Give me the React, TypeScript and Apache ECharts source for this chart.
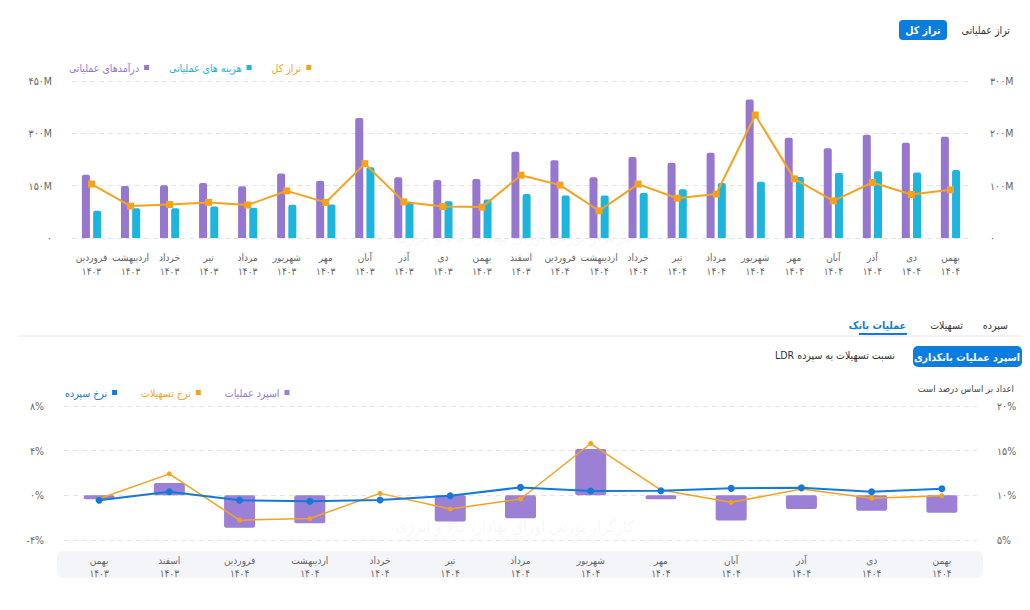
import React, { useEffect, useRef } from "react";
import * as echarts from "echarts";

const FONT = "'DejaVu Sans Condensed', 'DejaVu Sans', sans-serif";

// ---------- Top chart data ----------
const topMonths = [
  "فروردین", "اردیبهشت", "خرداد", "تیر", "مرداد", "شهریور", "مهر", "آبان", "آذر", "دی", "بهمن", "اسفند",
  "فروردین", "اردیبهشت", "خرداد", "تیر", "مرداد", "شهریور", "مهر", "آبان", "آذر", "دی", "بهمن",
];
const topYears = [
  "۱۴۰۳", "۱۴۰۳", "۱۴۰۳", "۱۴۰۳", "۱۴۰۳", "۱۴۰۳", "۱۴۰۳", "۱۴۰۳", "۱۴۰۳", "۱۴۰۳", "۱۴۰۳", "۱۴۰۳",
  "۱۴۰۴", "۱۴۰۴", "۱۴۰۴", "۱۴۰۴", "۱۴۰۴", "۱۴۰۴", "۱۴۰۴", "۱۴۰۴", "۱۴۰۴", "۱۴۰۴", "۱۴۰۴",
];
const revenue = [181, 149, 151, 158, 148, 185, 164, 344, 174, 166, 169, 247, 223, 174, 232, 216, 244, 397, 287, 257, 296, 273, 290];
const expenses = [78, 85, 85, 90, 87, 95, 96, 203, 104, 105, 110, 126, 122, 122, 129, 140, 158, 161, 175, 186, 191, 188, 195];
const totalBalance = [103, 61, 64, 68, 63, 90, 68, 142, 69, 60, 59, 120, 101, 52, 103, 76, 84, 235, 113, 71, 106, 83, 92];

const topLeftTicks = { min: 0, max: 450, interval: 150 };
const topRightTicks = { min: 0, max: 300, interval: 100 };

// ---------- Bottom chart data ----------
const botMonths = ["بهمن", "اسفند", "فروردین", "اردیبهشت", "خرداد", "تیر", "مرداد", "شهریور", "مهر", "آبان", "آذر", "دی", "بهمن"];
const botYears = ["۱۴۰۳", "۱۴۰۳", "۱۴۰۴", "۱۴۰۴", "۱۴۰۴", "۱۴۰۴", "۱۴۰۴", "۱۴۰۴", "۱۴۰۴", "۱۴۰۴", "۱۴۰۴", "۱۴۰۴", "۱۴۰۴"];
const spread = [-0.35, 1.1, -2.9, -2.5, 0, -2.35, -2.05, 4.14, -0.35, -2.26, -1.22, -1.37, -1.55];
const loanRate = [9.62, 12.4, 7.22, 7.4, 10.22, 8.48, 9.59, 15.8, 10.59, 9.22, 10.7, 9.67, 9.96];
const depositRate = [9.44, 10.4, 9.44, 9.33, 9.48, 9.96, 10.89, 10.48, 10.52, 10.78, 10.85, 10.41, 10.74];

const botLeftTicks = { min: -4, max: 8, interval: 4 };
const botRightTicks = { min: 5, max: 20, interval: 5 };

const C_PURPLE = "#9677d0";
const C_CYAN = "#1db4de";
const C_ORANGE = "#f7a21e";
const C_BLUE = "#1479d9";
const C_BAR2 = "#9b80d6";
const C_BTN = "#0b7ddf";

const faDigits = "۰۱۲۳۴۵۶۷۸۹";
const toFa = (v: number | string) => String(v).replace(/[0-9]/g, (d) => faDigits[Number(d)]);

export default function App() {
  const ref = useRef<HTMLDivElement>(null);

  useEffect(() => {
    if (!ref.current) return;
    const chart = echarts.init(ref.current, undefined, { renderer: "svg" });

    const topCats = topMonths.map((m, i) => m + "\n" + topYears[i]);
    const botCats = botMonths.map((m, i) => m + "\n" + botYears[i]);

    const axisLabel = { color: "#666", fontSize: 10.5, fontFamily: FONT };
    const splitLine = { show: true, lineStyle: { color: "#e3e5ec", type: [5, 4] as any, width: 1 } };

    const option: any = {
      animation: false,
      backgroundColor: "#ffffff",
      textStyle: { fontFamily: FONT },
      legend: [
        {
          left: 64,
          top: 57,
          align: "right",
          icon: "rect",
          itemWidth: 5,
          itemHeight: 5,
          itemGap: 20,
          textStyle: { fontSize: 10.5, fontFamily: FONT },
          data: [
            { name: "درآمدهای عملیاتی", textStyle: { color: C_PURPLE } },
            { name: "هزینه های عملیاتی", textStyle: { color: C_CYAN } },
            { name: "تراز کل", textStyle: { color: C_ORANGE } },
          ],
        },
        {
          left: 60,
          top: 382,
          align: "right",
          icon: "rect",
          itemWidth: 5,
          itemHeight: 5,
          itemGap: 24,
          textStyle: { fontSize: 10.5, fontFamily: FONT },
          data: [
            { name: "نرخ سپرده", textStyle: { color: C_BLUE } },
            { name: "نرخ تسهیلات", textStyle: { color: C_ORANGE } },
            { name: "اسپرد عملیات", textStyle: { color: C_PURPLE } },
          ],
        },
      ],
      grid: [
        { left: 72, right: 60, top: 81, height: 157 },
        { left: 64, right: 53, top: 406, height: 134 },
      ],
      xAxis: [
        {
          type: "category",
          gridIndex: 0,
          data: topCats,
          axisLine: { show: false },
          axisTick: { show: false },
          axisLabel: { ...axisLabel, fontSize: 10, lineHeight: 14, margin: 12, interval: 0 },
        },
        {
          type: "category",
          gridIndex: 1,
          data: botCats,
          axisLine: { show: false },
          axisTick: { show: false },
          axisLabel: { ...axisLabel, fontSize: 10, lineHeight: 13, margin: 14, interval: 0 },
        },
      ],
      yAxis: [
        {
          type: "value",
          gridIndex: 0,
          ...topLeftTicks,
          axisLabel: { ...axisLabel, margin: 20, formatter: (v: number) => (v === 0 ? "۰" : toFa(v) + "M") },
          splitLine,
          axisLine: { show: false },
          axisTick: { show: false },
        },
        {
          type: "value",
          gridIndex: 0,
          position: "right",
          ...topRightTicks,
          axisLabel: { ...axisLabel, margin: 20, formatter: (v: number) => (v === 0 ? "۰" : toFa(v) + "M") },
          splitLine,
          axisLine: { show: false },
          axisTick: { show: false },
        },
        {
          type: "value",
          gridIndex: 1,
          ...botLeftTicks,
          axisLabel: { ...axisLabel, margin: 20, formatter: (v: number) => toFa(v) + "%" },
          splitLine,
          axisLine: { show: false },
          axisTick: { show: false },
        },
        {
          type: "value",
          gridIndex: 1,
          position: "right",
          ...botRightTicks,
          axisLabel: { ...axisLabel, margin: 20, formatter: (v: number) => toFa(v) + "%" },
          splitLine,
          axisLine: { show: false },
          axisTick: { show: false },
        },
      ],
      series: [
        {
          name: "درآمدهای عملیاتی",
          type: "bar",
          xAxisIndex: 0,
          yAxisIndex: 0,
          data: revenue,
          barWidth: 8,
          barGap: "40%",
          itemStyle: { color: C_PURPLE, borderRadius: [2, 2, 0, 0] },
        },
        {
          name: "هزینه های عملیاتی",
          type: "bar",
          xAxisIndex: 0,
          yAxisIndex: 0,
          data: expenses,
          barWidth: 8,
          itemStyle: { color: C_CYAN, borderRadius: [2, 2, 0, 0] },
        },
        {
          name: "تراز کل",
          type: "line",
          xAxisIndex: 0,
          yAxisIndex: 1,
          data: totalBalance,
          symbol: "rect",
          symbolSize: 7,
          lineStyle: { color: C_ORANGE, width: 2 },
          itemStyle: { color: C_ORANGE },
          z: 5,
        },
        {
          name: "اسپرد عملیات",
          type: "bar",
          xAxisIndex: 1,
          yAxisIndex: 2,
          data: spread,
          barWidth: 31,
          itemStyle: { color: C_BAR2, borderRadius: 2 },
        },
        {
          name: "نرخ تسهیلات",
          type: "line",
          xAxisIndex: 1,
          yAxisIndex: 3,
          data: loanRate,
          symbol: "circle",
          symbolSize: 5,
          lineStyle: { color: C_ORANGE, width: 1.5 },
          itemStyle: { color: C_ORANGE },
          z: 5,
        },
        {
          name: "نرخ سپرده",
          type: "line",
          xAxisIndex: 1,
          yAxisIndex: 3,
          data: depositRate,
          symbol: "circle",
          symbolSize: 7,
          lineStyle: { color: C_BLUE, width: 2 },
          itemStyle: { color: C_BLUE },
          z: 6,
        },
      ],
      graphic: [
        // x label background for bottom chart
        { type: "rect", z: -10, shape: { x: 57, y: 551, width: 926, height: 27, r: 6 }, style: { fill: "#f4f5f9" } },
        // watermarks
        {
          type: "text", z: -5, x: 515, y: 236,
          style: { text: "کارگزار بورس اوراق بهادار، کالا و انرژی", fill: "rgba(215,219,232,0.22)", font: "16px " + FONT, align: "center", verticalAlign: "middle" },
        },
        {
          type: "text", z: -5, x: 515, y: 526,
          style: { text: "کارگزار بورس اوراق بهادار، کالا و انرژی", fill: "rgba(215,219,232,0.22)", font: "16px " + FONT, align: "center", verticalAlign: "middle" },
        },
        // top buttons
        { type: "rect", shape: { x: 899, y: 20, width: 48, height: 20, r: 4 }, style: { fill: C_BTN } },
        { type: "text", x: 923, y: 30, style: { text: "تراز کل", fill: "#fff", font: "bold 10.5px " + FONT, align: "center", verticalAlign: "middle" } },
        { type: "text", x: 1010, y: 30, style: { text: "تراز عملیاتی", fill: "#333", font: "10.5px " + FONT, align: "right", verticalAlign: "middle" } },
        // tabs
        { type: "line", shape: { x1: 18, y1: 336, x2: 1022, y2: 336 }, style: { stroke: "#e6e8ee", lineWidth: 1 } },
        { type: "text", x: 1008, y: 325, style: { text: "سپرده", fill: "#333", font: "10.5px " + FONT, align: "right", verticalAlign: "middle" } },
        { type: "text", x: 963, y: 325, style: { text: "تسهیلات", fill: "#333", font: "10.5px " + FONT, align: "right", verticalAlign: "middle" } },
        { type: "text", x: 906, y: 325, style: { text: "عملیات بانک", fill: C_BTN, font: "bold 10.5px " + FONT, align: "right", verticalAlign: "middle" } },
        { type: "rect", shape: { x: 859, y: 333, width: 48, height: 2 }, style: { fill: C_BTN } },
        // sub buttons
        { type: "rect", shape: { x: 913, y: 346, width: 109, height: 21, r: 5 }, style: { fill: C_BTN } },
        { type: "text", x: 967, y: 356.5, style: { text: "اسپرد عملیات بانکداری", fill: "#fff", font: "bold 10.5px " + FONT, align: "center", verticalAlign: "middle" } },
        { type: "text", x: 895, y: 355, style: { text: "LDR نسبت تسهیلات به سپرده", fill: "#333", font: "10.5px " + FONT, align: "right", verticalAlign: "middle" } },
        { type: "text", x: 1014, y: 388, style: { text: "اعداد بر اساس درصد است", fill: "#444", font: "9.5px " + FONT, align: "right", verticalAlign: "middle" } },
      ],
    };

    chart.setOption(option);
    return () => chart.dispose();
  }, []);

  return (
    <div
      ref={ref}
      style={{ position: "fixed", left: 0, top: 0, width: 1030, height: 610, background: "#fff" }}
    />
  );
}
